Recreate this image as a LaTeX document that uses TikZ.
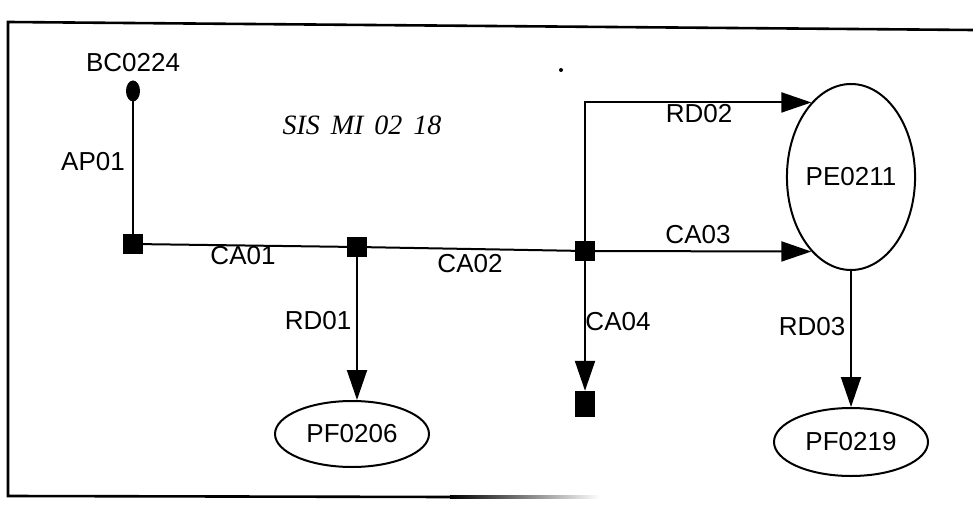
\documentclass[tikz,border=0pt]{standalone}
\usepackage{fontspec}
\setmainfont{Liberation Sans}
\newfontfamily\titlefont{Liberation Serif}
\usetikzlibrary{arrows.meta,shapes.geometric}
\tikzset{
  lab/.style={font=\fontsize{26}{30}\selectfont, inner sep=0pt},
  sqnode/.style={fill=black, draw=none, minimum width=20pt, minimum height=20pt, inner sep=0pt},
  dotnode/.style={ellipse, fill=black, draw=none, minimum width=14pt, minimum height=21pt, inner sep=0pt},
  ell/.style={ellipse, draw=black, line width=2pt, inner sep=0pt, font=\fontsize{26}{30}\selectfont},
  conn/.style={line width=2pt, draw=black},
  arr/.style={conn, -{Triangle[length=30pt, width=20pt]}},
  frameline/.style={line width=2.6pt, draw=black}
}
\begin{document}
\begin{tikzpicture}[x=1pt, y=-1pt]
\useasboundingbox (0,0) rectangle (973,510);
% frame
\coordinate (ftl) at (8,22);
\coordinate (ftr) at (973,30);
\coordinate (fbl) at (8,496);
\coordinate (fbm) at (450,497);
\draw[frameline] (ftr) -- (ftl) -- (fbl) -- (fbm);
\shade[left color=black, right color=white] (450,495.7) rectangle (600,498.3);
% title and stray dot
\node[inner sep=0pt] (title) at (362,125) {\titlefont\itshape\fontsize{28}{32}\selectfont SIS\hspace{4pt} MI\hspace{4pt} 02\hspace{4pt} 18};
\node[circle, fill=black, minimum size=4pt, inner sep=0pt] (speck) at (561,70) {};
% nodes
\node[dotnode] (bc) at (133,91) {};
\node[lab] (bclab) at (133,63) {BC0224};
\node[sqnode] (s1) at (133,244) {};
\node[sqnode] (s2) at (357,247) {};
\node[sqnode] (s3) at (585,251) {};
\node[sqnode, minimum height=26pt] (s4) at (585,404) {};
\node[ell, minimum width=154pt, minimum height=66pt] (pf0206) at (352,434) {PF0206};
\node[ell, minimum width=116pt, minimum height=186pt] (pe) at (851,177) {PE0211};
\node[ell, minimum width=154pt, minimum height=68pt] (pf0219) at (851,442) {PF0219};
% connectors
\draw[conn] (bc.center) -- (s1.center);
\draw[conn] (s1.center) -- (s2.center);
\draw[conn] (s2.center) -- (s3.center);
\draw[arr] (s2.center) -- (s2.center |- pf0206.north);
\draw[arr] (s3.center) |- (pe.118);
\draw[arr] (s3.center) -- (pe.242);
\draw[arr] (s3.center) -- (s4.north);
\draw[arr] (pe.south) -- (pf0219.north);
% labels
\node[lab] (lap01) at (93,162) {AP01};
\node[lab] (lca01) at (243,256) {CA01};
\node[lab] (lca02) at (470,264) {CA02};
\node[lab] (lrd01) at (318,321) {RD01};
\node[lab] (lca04) at (618,322) {CA04};
\node[lab] (lrd02) at (699,114) {RD02};
\node[lab] (lca03) at (698,235) {CA03};
\node[lab] (lrd03) at (812,327) {RD03};
\end{tikzpicture}
\end{document}
